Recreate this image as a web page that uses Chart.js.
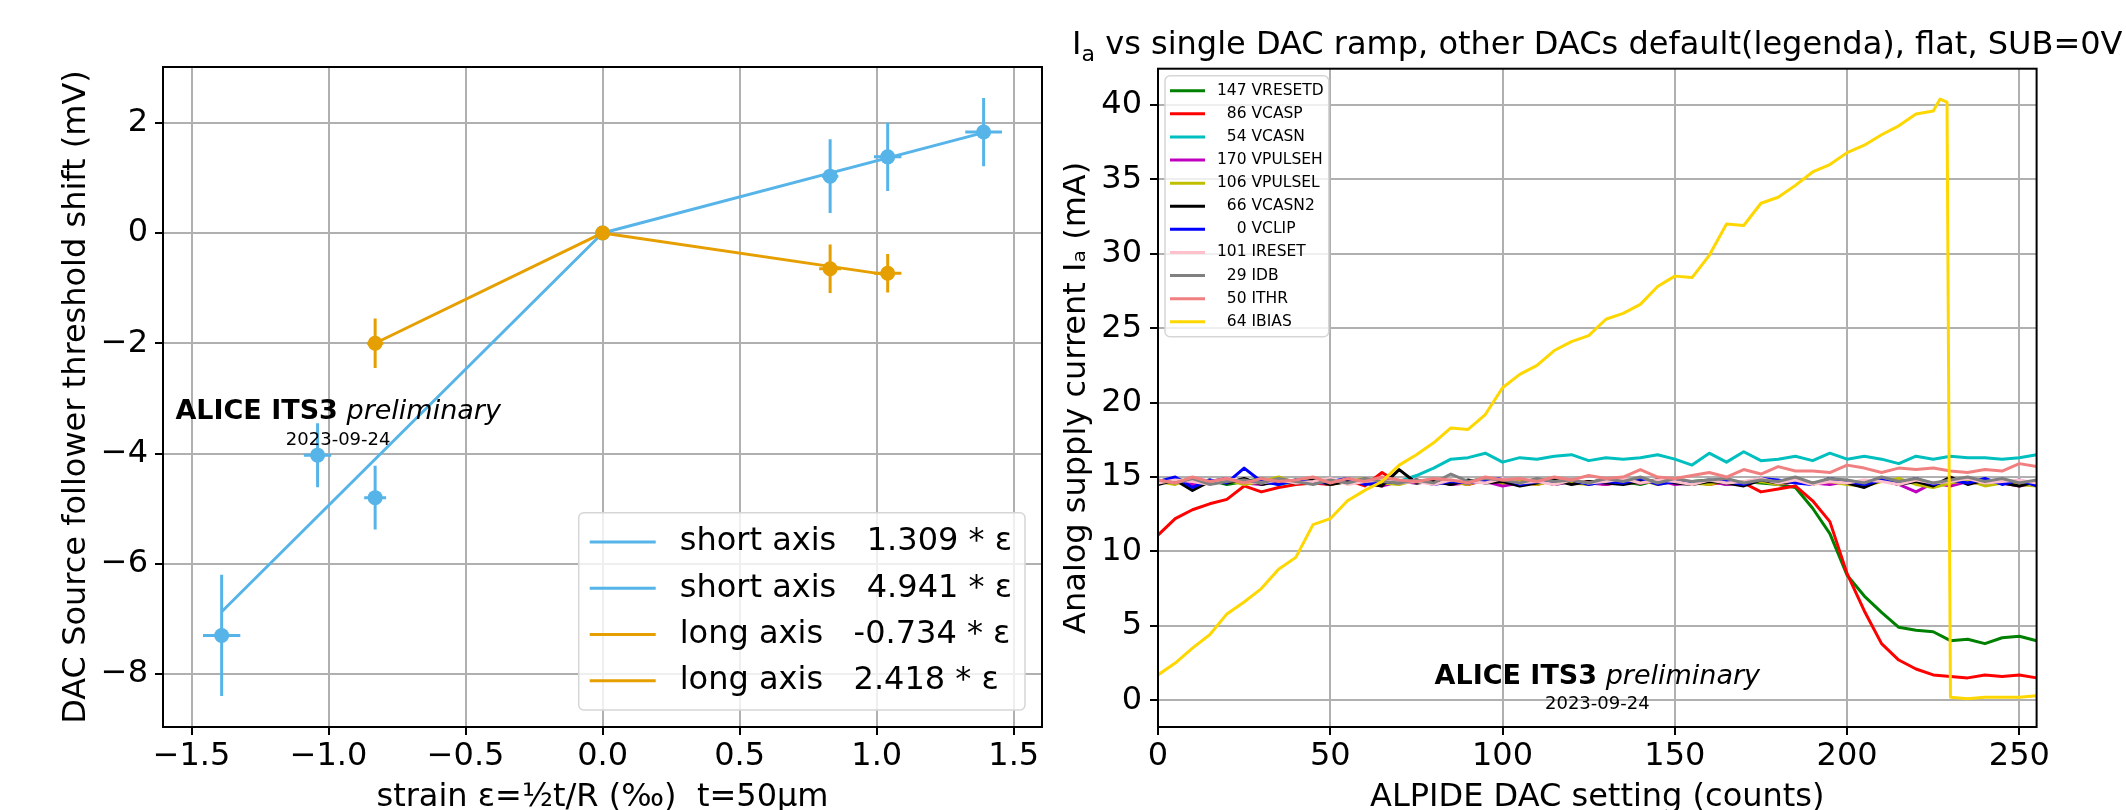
<!DOCTYPE html>
<html>
<head>
<meta charset="utf-8">
<script src="https://cdn.jsdelivr.net/npm/chart.js@4.4.1/dist/chart.umd.min.js"></script>
<style>
html, body { margin: 0; padding: 0; background: #fff; }
#wrap { position: relative; width: 2126px; height: 810px; overflow: hidden; }
canvas { position: absolute; top: 0; }
#strain { left: 0; }
#dac { left: 1063px; }
</style>
</head>
<body>
<div id="wrap">
  <canvas id="strain" width="1063" height="810"></canvas>
  <canvas id="dac" width="1063" height="810"></canvas>
</div>
<script>
// ---------- left panel: source follower threshold shift vs strain ----------
var shortX = [-1.39, -1.04, -0.83, 0, 0.83, 1.04, 1.39];
var shortY = [-7.30, -4.03, -4.80, 0, 1.03, 1.38, 1.83];
var shortXErr = [0.068, 0.05, 0.04, 0, 0.03, 0.05, 0.067];
var shortYErr = [1.1, 0.58, 0.58, 0, 0.67, 0.62, 0.62];

var longX = [-0.83, 0, 0.83, 1.04];
var longY = [-2.0, 0, -0.65, -0.73];
var longXErr = [0.03, 0, 0.04, 0.05];
var longYErr = [0.45, 0, 0.44, 0.35];

// fitted slopes, drawn between their end points
var fitLabels = ['short axis   1.309 * ε', 'short axis   4.941 * ε', 'long axis   -0.734 * ε', 'long axis   2.418 * ε'];
var fitX = [[0, 1.39], [-1.39, 0], [0, 1.04], [-0.83, 0]];
var fitY = [[0, 1.82], [-6.87, 0], [0, -0.76], [-2.0, 0]];

var strainTicks = [-1.5, -1.0, -0.5, 0, 0.5, 1.0, 1.5];
var shiftTicks = [-8, -6, -4, -2, 0, 2];

// ---------- right panel: analog current vs DAC setting ----------
var dacSetting = [0, 5, 10, 15, 20, 25, 30, 35, 40, 45, 50, 55, 60,
  65, 70, 75, 80, 85, 90, 95, 100, 105, 110, 115, 120, 125,
  130, 135, 140, 145, 150, 155, 160, 165, 170, 175, 180, 185, 190,
  195, 200, 205, 210, 215, 220, 225, 230, 235, 240, 245, 250, 255];

var vresetd = [14.7, 14.9, 14.6, 14.8, 14.5, 14.7, 14.9, 14.6, 14.8, 14.7, 14.5, 14.8, 14.6,
  14.9, 14.7, 14.6, 14.8, 14.5, 14.7, 14.9, 14.6, 14.7, 14.8, 14.5, 14.7, 14.6,
  14.9, 14.7, 14.5, 14.8, 14.6, 14.7, 14.8, 14.5, 14.7, 14.6, 14.5, 14.3, 12.9,
  11.2, 8.4, 7.0, 5.9, 4.9, 4.7, 4.6, 4.0, 4.1, 3.8, 4.2, 4.3, 4.0];
var vcasp = [11.1, 12.2, 12.8, 13.2, 13.5, 14.4, 14.0, 14.3, 14.5, 14.6, 14.5, 14.8, 14.4,
  15.3, 14.6, 14.8, 14.6, 14.7, 14.5, 14.8, 14.6, 14.7, 14.5, 14.8, 14.6, 14.7,
  14.5, 14.7, 14.6, 14.8, 14.6, 14.7, 14.5, 14.7, 14.6, 14.0, 14.2, 14.4, 13.4,
  12.0, 8.5, 6.0, 3.8, 2.7, 2.1, 1.7, 1.6, 1.5, 1.7, 1.6, 1.7, 1.5];
var vcasn = [14.6, 14.8, 14.5, 14.7, 14.9, 14.6, 14.8, 14.5, 14.7, 14.6, 14.8, 14.7, 14.6,
  14.9, 14.7, 15.1, 15.6, 16.2, 16.3, 16.6, 16.0, 16.3, 16.2, 16.4, 16.5, 16.1,
  16.3, 16.2, 16.3, 16.5, 16.2, 15.8, 16.6, 16.0, 16.7, 16.1, 16.2, 16.4, 16.1,
  16.6, 16.2, 16.4, 16.2, 15.9, 16.4, 16.2, 16.4, 16.3, 16.3, 16.2, 16.3, 16.5];
var vpulseh = [14.6, 14.8, 14.5, 14.7, 14.9, 14.6, 14.5, 14.8, 14.6, 14.7, 14.5, 14.8, 14.6,
  14.4, 14.7, 14.6, 14.8, 14.5, 14.6, 14.7, 14.4, 14.6, 14.8, 14.5, 14.7, 14.6,
  14.5, 14.7, 14.6, 14.8, 14.5, 14.6, 14.7, 14.5, 14.6, 14.8, 14.5, 14.7, 14.6,
  14.5, 14.7, 14.6, 14.8, 14.5, 14.0, 14.6, 14.4, 14.7, 14.5, 14.6, 14.4, 14.6];
var vpulsel = [14.7, 14.5, 14.9, 14.6, 14.8, 14.5, 14.7, 15.0, 14.6, 14.8, 14.5, 14.7, 14.9,
  14.6, 14.5, 14.8, 14.6, 14.7, 14.5, 14.9, 14.6, 14.7, 14.5, 14.8, 14.6, 14.5,
  14.7, 14.6, 14.8, 14.5, 14.7, 14.6, 14.5, 14.8, 14.6, 14.7, 14.5, 14.8, 14.6,
  14.7, 14.5, 14.4, 14.7, 14.9, 14.5, 14.3, 14.6, 14.8, 14.4, 14.6, 14.5, 14.4];
var vcasn2 = [14.5, 14.8, 14.1, 14.7, 14.6, 14.9, 14.5, 14.7, 14.6, 14.8, 14.5, 14.7, 14.6,
  14.4, 15.5, 14.6, 14.7, 14.5, 14.8, 14.6, 14.7, 14.4, 14.6, 14.8, 14.5, 14.7,
  14.6, 14.5, 14.7, 14.8, 14.6, 14.5, 14.7, 14.6, 14.4, 14.8, 14.6, 14.7, 14.5,
  14.9, 14.6, 14.3, 14.8, 14.5, 14.7, 14.4, 15.0, 14.5, 14.8, 14.6, 14.4, 14.7];
var vclip = [14.7, 15.0, 14.3, 14.8, 14.6, 15.6, 14.7, 14.5, 14.8, 14.6, 14.7, 14.9, 14.5,
  14.7, 14.6, 14.8, 14.5, 14.7, 14.6, 14.8, 14.9, 14.5, 14.7, 14.6, 14.8, 14.5,
  14.7, 14.6, 14.9, 14.5, 14.7, 14.6, 14.8, 14.7, 14.5, 14.9, 14.8, 14.6, 14.5,
  14.9, 14.7, 14.5, 14.8, 14.6, 14.9, 14.5, 14.8, 14.6, 14.9, 14.5, 14.8, 14.4];
var ireset = [14.6, 14.8, 14.7, 14.5, 14.9, 14.7, 14.6, 14.8, 14.6, 14.7, 14.9, 14.5, 14.7,
  14.8, 14.6, 14.7, 14.5, 14.8, 14.7, 14.6, 14.9, 14.6, 14.7, 14.5, 14.8, 14.6,
  14.7, 14.9, 14.6, 14.8, 14.7, 14.5, 14.8, 14.6, 14.7, 14.9, 14.6, 14.8, 14.5,
  14.7, 14.6, 14.8, 14.7, 14.5, 14.8, 14.6, 14.7, 14.9, 14.6, 14.7, 14.8, 14.6];
var idb = [14.8, 14.6, 14.9, 14.5, 14.7, 14.8, 14.6, 14.9, 14.7, 14.5, 14.8, 14.6, 14.9,
  14.7, 14.6, 14.8, 14.6, 15.2, 14.7, 14.9, 14.8, 14.6, 14.9, 14.7, 14.8, 14.6,
  14.9, 14.7, 15.0, 14.6, 14.9, 14.7, 14.8, 14.9, 14.6, 14.8, 14.7, 15.0, 14.6,
  14.9, 14.8, 14.6, 15.0, 14.7, 14.9, 14.6, 14.8, 15.0, 14.7, 14.9, 14.6, 14.8];
var ithr = [14.8, 14.6, 15.0, 14.7, 14.9, 14.6, 14.9, 14.7, 14.8, 15.0, 14.6, 14.9, 14.7,
  15.0, 14.8, 14.7, 14.9, 14.8, 14.6, 15.0, 14.8, 14.9, 14.7, 15.0, 14.8, 15.1,
  14.9, 15.0, 15.5, 15.0, 14.9, 15.1, 15.3, 15.0, 15.5, 15.2, 15.7, 15.4, 15.4,
  15.3, 15.8, 15.6, 15.3, 15.6, 15.5, 15.6, 15.4, 15.3, 15.5, 15.4, 15.9, 15.7];

// IBIAS has its own settings so the drop after 229 stays sharp
var ibiasSetting = [0, 5, 10, 15, 20, 25, 30, 35, 40, 45, 50, 55, 60,
  65, 70, 75, 80, 85, 90, 95, 100, 105, 110, 115, 120, 125,
  130, 135, 140, 145, 150, 155, 160, 165, 170, 175, 180, 185, 190,
  195, 200, 205, 210, 215, 220, 225, 227, 229, 230, 235, 240, 245, 250, 255];
var ibias = [1.7, 2.5, 3.5, 4.4, 5.8, 6.6, 7.5, 8.8, 9.6, 11.8, 12.2, 13.4, 14.1,
  14.7, 15.8, 16.5, 17.3, 18.3, 18.2, 19.2, 21.0, 21.9, 22.5, 23.5, 24.1, 24.5,
  25.6, 26.0, 26.6, 27.8, 28.5, 28.4, 29.9, 32.0, 31.9, 33.4, 33.8, 34.6, 35.5,
  36.0, 36.8, 37.3, 38.0, 38.6, 39.4, 39.6, 40.4, 40.2, 0.2, 0.1, 0.2, 0.2, 0.2, 0.3];

var dacLabels = ['147 VRESETD', '  86 VCASP', '  54 VCASN', '170 VPULSEH', '106 VPULSEL',
  '  66 VCASN2', '    0 VCLIP', '101 IRESET', '  29 IDB', '  50 ITHR', '  64 IBIAS'];
var dacColors = ['#008000', '#ff0000', '#00bfbf', '#bf00bf', '#bfbf00', '#000000',
  '#0000ff', '#ffc0cb', '#808080', '#f08080', '#ffd700'];
var currentTicks = [0, 5, 10, 15, 20, 25, 30, 35, 40];
var settingTicks = [0, 50, 100, 150, 200, 250];

var FONT = "'DejaVu Sans', sans-serif";
Chart.defaults.font.family = FONT;
Chart.defaults.color = '#000';

function pts(xs, ys) {
  return xs.map(function (x, i) { return { x: x, y: ys[i] }; });
}
function fmt(v, d) {
  var s = Math.abs(v).toFixed(d);
  return v < 0 ? '\u2212' + s : s;
}

// black box round the plot area, matplotlib style
var frame = {
  id: 'frame',
  afterDatasetsDraw: function (chart) {
    var a = chart.chartArea, ctx = chart.ctx;
    ctx.save();
    ctx.strokeStyle = '#000';
    ctx.lineWidth = 2;
    ctx.strokeRect(a.left, a.top, a.right - a.left, a.bottom - a.top);
    ctx.restore();
  }
};

var errorBars = {
  id: 'errorBars',
  beforeDatasetsDraw: function (chart) {
    var ctx = chart.ctx, sx = chart.scales.x, sy = chart.scales.y, a = chart.chartArea;
    ctx.save();
    ctx.beginPath();
    ctx.rect(a.left, a.top, a.right - a.left, a.bottom - a.top);
    ctx.clip();
    ctx.lineWidth = 3;
    chart.data.datasets.forEach(function (ds) {
      if (!ds.errY) return;
      ctx.strokeStyle = ds.backgroundColor;
      ds.data.forEach(function (p, i) {
        var px = sx.getPixelForValue(p.x), py = sy.getPixelForValue(p.y);
        ctx.beginPath();
        ctx.moveTo(px, sy.getPixelForValue(p.y - ds.errY[i]));
        ctx.lineTo(px, sy.getPixelForValue(p.y + ds.errY[i]));
        ctx.moveTo(sx.getPixelForValue(p.x - ds.errX[i]), py);
        ctx.lineTo(sx.getPixelForValue(p.x + ds.errX[i]), py);
        ctx.stroke();
      });
    });
    ctx.restore();
  }
};

// legend drawn inside the axes with a rounded frame
var boxLegend = {
  id: 'boxLegend',
  afterDraw: function (chart, args, o) {
    var ctx = chart.ctx, a = chart.chartArea;
    var items = chart.data.datasets.filter(function (d) { return d.label; });
    ctx.save();
    ctx.font = o.size + 'px ' + FONT;
    var tw = Math.max.apply(null, items.map(function (d) { return ctx.measureText(d.label).width; }));
    var w = o.padL + o.lineLen + o.gap + tw + o.padR;
    var h = o.padY * 2 + items.length * o.rowH;
    var x = o.corner === 'lower right' ? a.right - o.margin - w : a.left + o.margin;
    var y = o.corner === 'lower right' ? a.bottom - o.margin - h : a.top + o.margin;
    ctx.beginPath();
    ctx.roundRect(x, y, w, h, 5);
    ctx.fillStyle = 'rgba(255,255,255,0.8)';
    ctx.fill();
    ctx.strokeStyle = '#d6d6d6';
    ctx.lineWidth = 1.5;
    ctx.stroke();
    ctx.textBaseline = 'middle';
    ctx.textAlign = 'left';
    items.forEach(function (d, i) {
      var cy = y + o.padY + o.rowH * (i + 0.5);
      ctx.beginPath();
      ctx.moveTo(x + o.padL, cy);
      ctx.lineTo(x + o.padL + o.lineLen, cy);
      ctx.strokeStyle = d.borderColor;
      ctx.lineWidth = o.lineWidth;
      ctx.stroke();
      ctx.fillStyle = '#000';
      ctx.fillText(d.label, x + o.padL + o.lineLen + o.gap, cy);
    });
    ctx.restore();
  }
};

// "ALICE ITS3 preliminary" + date, placed in data coordinates
var stamp = {
  id: 'stamp',
  afterDatasetsDraw: function (chart, args, o) {
    var ctx = chart.ctx, sx = chart.scales.x, sy = chart.scales.y;
    var cx = sx.getPixelForValue(o.x), by = sy.getPixelForValue(o.y), dy = sy.getPixelForValue(o.dateY);
    var bold = 'bold 27px ' + FONT, ital = 'italic 27px ' + FONT;
    ctx.save();
    ctx.fillStyle = '#000';
    ctx.textBaseline = 'alphabetic';
    ctx.textAlign = 'left';
    ctx.font = bold;
    var w1 = ctx.measureText('ALICE ITS3').width;
    ctx.font = ital;
    var w2 = ctx.measureText(' preliminary').width;
    var x0 = cx - (w1 + w2) / 2;
    ctx.font = bold;
    ctx.fillText('ALICE ITS3', x0, by);
    ctx.font = ital;
    ctx.fillText(' preliminary', x0 + w1, by);
    ctx.font = '18px ' + FONT;
    ctx.textAlign = 'center';
    ctx.fillText('2023-09-24', cx, dy);
    ctx.restore();
  }
};

// title with a real subscript
var heading = {
  id: 'heading',
  afterDraw: function (chart, args, o) {
    var ctx = chart.ctx, a = chart.chartArea;
    var big = '32px ' + FONT, small = '22px ' + FONT;
    var rest = ' vs single DAC ramp, other DACs default(legenda), flat, SUB=0V';
    ctx.save();
    ctx.fillStyle = '#000';
    ctx.textBaseline = 'alphabetic';
    ctx.textAlign = 'left';
    ctx.font = big;
    var wI = ctx.measureText('I').width, wR = ctx.measureText(rest).width;
    ctx.font = small;
    var wa = ctx.measureText('a').width;
    var x0 = (a.left + a.right) / 2 - (wI + wa + wR) / 2;
    ctx.font = big;
    ctx.fillText('I', x0, o.baseline);
    ctx.font = small;
    ctx.fillText('a', x0 + wI, o.baseline + 7);
    ctx.font = big;
    ctx.fillText(rest, x0 + wI + wa, o.baseline);
    ctx.restore();
  }
};

function gridOpts() {
  return { color: '#b0b0b0', lineWidth: 2, tickColor: '#000', tickLength: 8, tickWidth: 2 };
}

// ---------- left chart ----------
var leftSets = fitLabels.map(function (lab, i) {
  var c = i < 2 ? '#56b4e9' : '#e69f00';
  return {
    label: lab, data: pts(fitX[i], fitY[i]), showLine: true, borderColor: c,
    backgroundColor: c, borderWidth: 3, pointRadius: 0, order: -i
  };
});
leftSets.push({
  data: pts(shortX, shortY), errX: shortXErr, errY: shortYErr, backgroundColor: '#56b4e9',
  borderColor: '#56b4e9', borderWidth: 0, pointRadius: 7.5, showLine: false, order: -4
});
leftSets.push({
  data: pts(longX, longY), errX: longXErr, errY: longYErr, backgroundColor: '#e69f00',
  borderColor: '#e69f00', borderWidth: 0, pointRadius: 7.5, showLine: false, order: -5
});

new Chart(document.getElementById('strain'), {
  type: 'scatter',
  data: { datasets: leftSets },
  plugins: [errorBars, frame, stamp, boxLegend],
  options: {
    responsive: false, animation: false, events: [], devicePixelRatio: 1,
    layout: { padding: { left: 0, right: 21, top: 67, bottom: 0 } },
    plugins: {
      legend: { display: false }, tooltip: { enabled: false },
      boxLegend: { corner: 'lower right', size: 32, margin: 17, padL: 11, lineLen: 66, gap: 24, padR: 13, padY: 6, rowH: 46.3, lineWidth: 3 },
      stamp: { x: -0.965, y: -3.38, dateY: -3.84 }
    },
    scales: {
      x: {
        type: 'linear', min: -1.604, max: 1.603,
        afterBuildTicks: function (s) { s.ticks = strainTicks.map(function (v) { return { value: v }; }); },
        afterFit: function (s) { s.height = 83; },
        ticks: { font: { size: 32 }, padding: 2, maxRotation: 0, autoSkip: false, callback: function (v) { return fmt(v, 1); } },
        grid: gridOpts(), border: { display: false },
        title: { display: true, text: 'strain ε=½t/R (‰)  t=50μm', font: { size: 32 }, padding: { top: 0, bottom: -7 } }
      },
      y: {
        type: 'linear', min: -8.96, max: 3.01,
        afterBuildTicks: function (s) { s.ticks = shiftTicks.map(function (v) { return { value: v }; }); },
        afterFit: function (s) { s.width = 163; },
        ticks: { font: { size: 32 }, padding: 7, autoSkip: false, callback: function (v) { return fmt(v, 0); } },
        grid: gridOpts(), border: { display: false },
        title: { display: true, text: 'DAC Source follower threshold shift (mV)', font: { size: 32 }, padding: { top: 57, bottom: 0 } }
      }
    }
  }
});

// ---------- right chart ----------
var dacSeries = [vresetd, vcasp, vcasn, vpulseh, vpulsel, vcasn2, vclip, ireset, idb, ithr];
var rightSets = dacLabels.map(function (lab, i) {
  var d = i < dacSeries.length ? pts(dacSetting, dacSeries[i]) : pts(ibiasSetting, ibias);
  return {
    label: lab, data: d, showLine: true, borderColor: dacColors[i], backgroundColor: dacColors[i],
    borderWidth: 3, borderJoinStyle: 'round', pointRadius: 0, order: -i
  };
});

new Chart(document.getElementById('dac'), {
  type: 'scatter',
  data: { datasets: rightSets },
  plugins: [frame, stamp, heading, boxLegend],
  options: {
    responsive: false, animation: false, events: [], devicePixelRatio: 1,
    layout: { padding: { left: 0, right: 89.4, top: 68.7, bottom: 0 } },
    plugins: {
      legend: { display: false }, tooltip: { enabled: false },
      boxLegend: { corner: 'upper left', size: 15.5, margin: 7, padL: 5, lineLen: 35, gap: 12, padR: 5, padY: 3.5, rowH: 23.1, lineWidth: 3 },
      stamp: { x: 127.5, y: 1.07, dateY: -0.59 },
      heading: { baseline: 54 }
    },
    scales: {
      x: {
        type: 'linear', min: 0, max: 255,
        afterBuildTicks: function (s) { s.ticks = settingTicks.map(function (v) { return { value: v }; }); },
        afterFit: function (s) { s.height = 83; },
        ticks: { font: { size: 32 }, padding: 2, maxRotation: 0, autoSkip: false },
        grid: gridOpts(), border: { display: false },
        title: { display: true, text: 'ALPIDE DAC setting (counts)', font: { size: 32 }, padding: { top: 0, bottom: -7 } }
      },
      y: {
        type: 'linear', min: -1.8, max: 42.44,
        afterBuildTicks: function (s) { s.ticks = currentTicks.map(function (v) { return { value: v }; }); },
        afterFit: function (s) { s.width = 95; },
        ticks: { font: { size: 32 }, padding: 8, autoSkip: false },
        grid: gridOpts(), border: { display: false },
        title: { display: true, text: 'Analog supply current Iₐ (mA)', font: { size: 32 }, padding: { top: -6, bottom: 0 } }
      }
    }
  }
});
</script>
</body>
</html>
